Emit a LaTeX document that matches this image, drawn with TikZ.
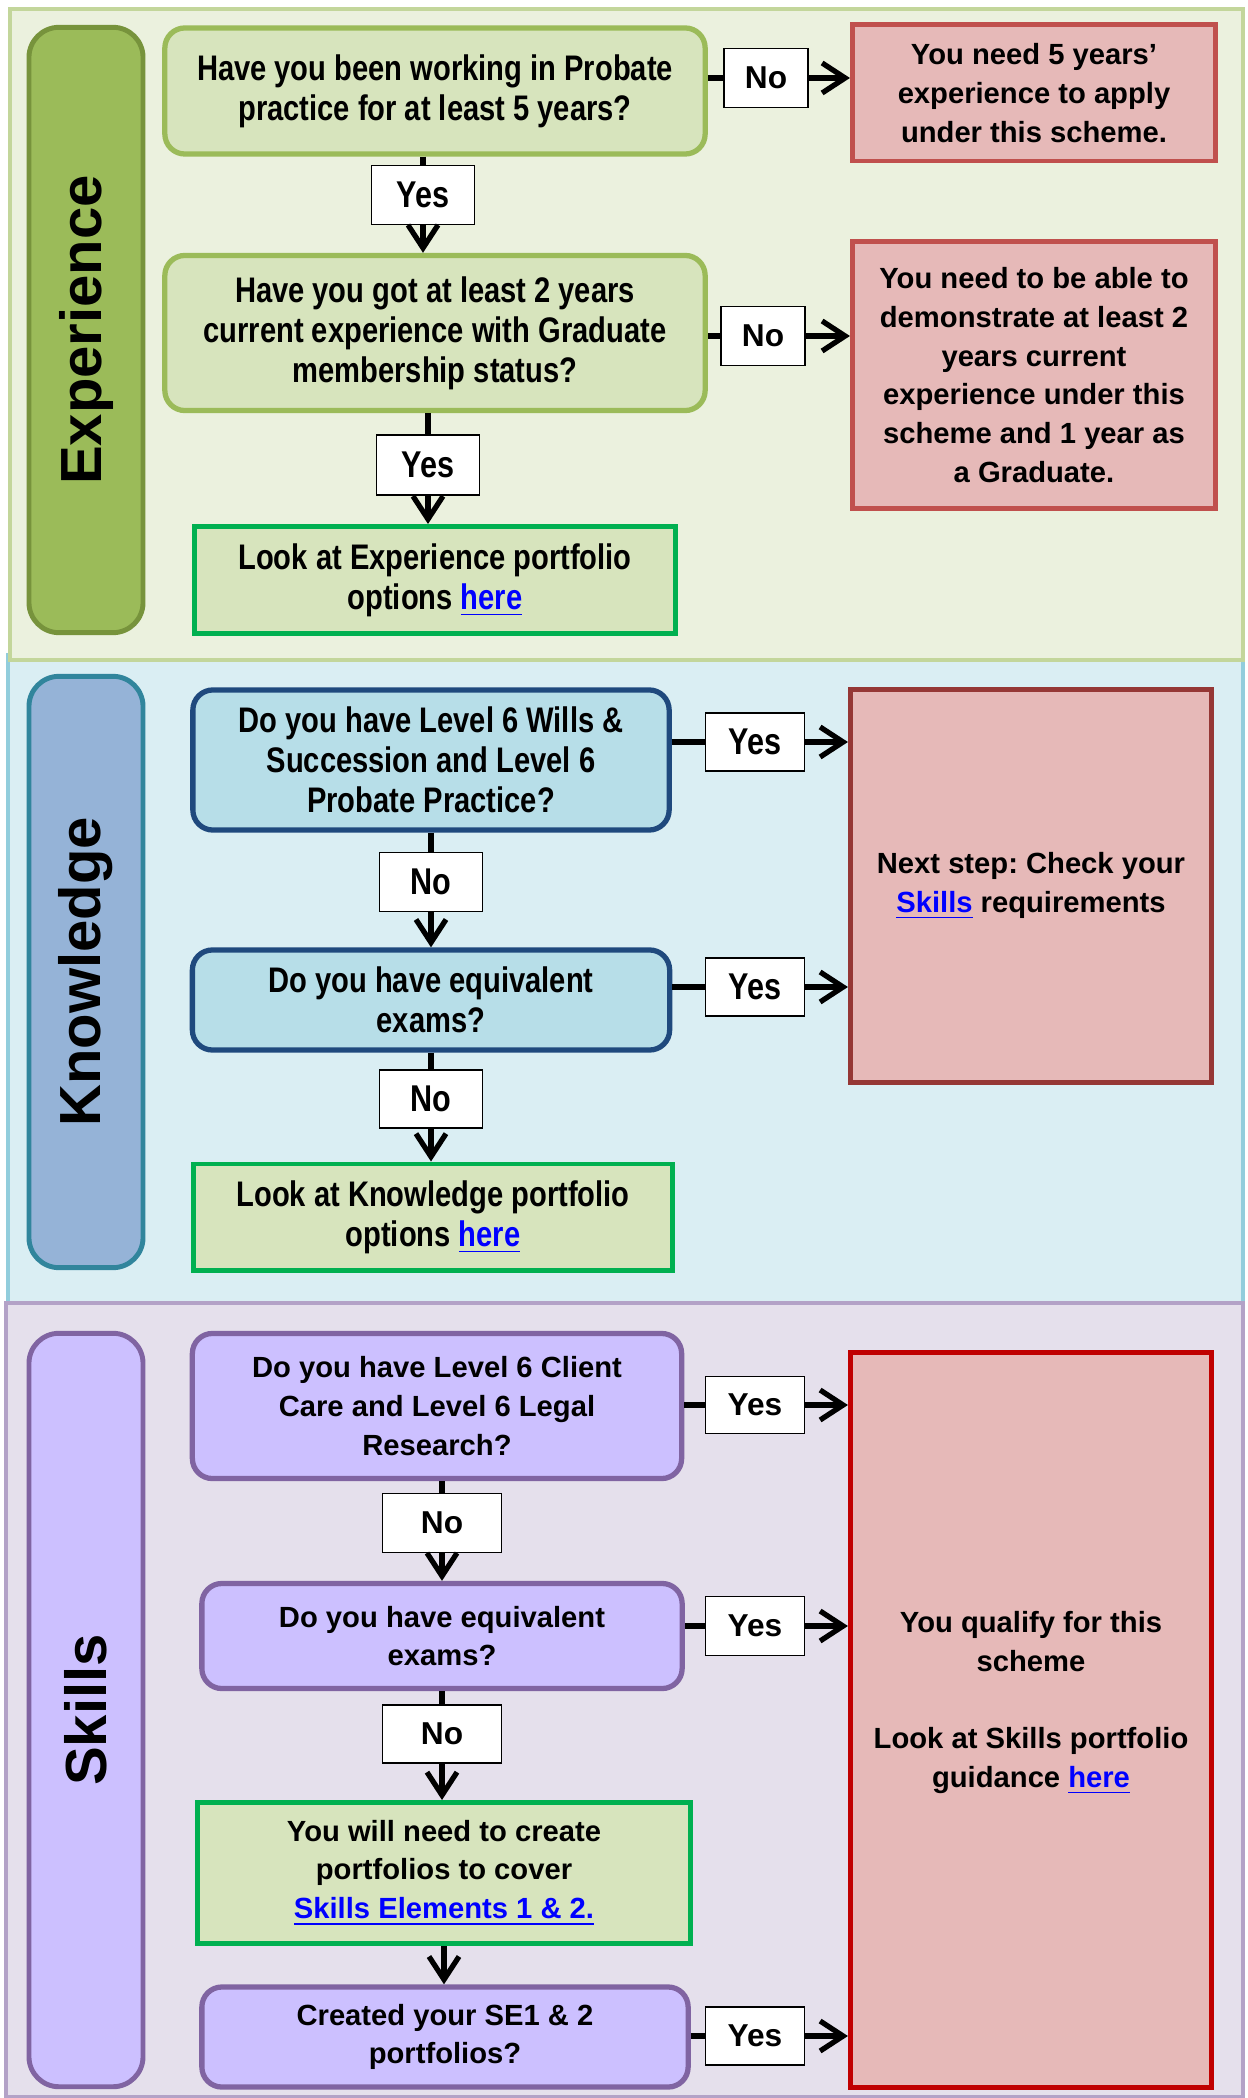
\documentclass[tikz,border=0pt]{standalone}
\usepackage{fontspec}
\setmainfont{Liberation Sans}
\newfontfamily\narrowfont[FakeStretch=0.82]{Liberation Sans}
\usetikzlibrary{arrows.meta}
\frenchspacing

\definecolor{expfill}{HTML}{EBF1DE}
\definecolor{expline}{HTML}{C3D69B}
\definecolor{explabel}{HTML}{9BBB59}
\definecolor{explabeldraw}{HTML}{77933C}
\definecolor{expq}{HTML}{D7E4BD}
\definecolor{knowfill}{HTML}{DAEEF3}
\definecolor{knowline}{HTML}{92CDDC}
\definecolor{knowlabel}{HTML}{95B3D7}
\definecolor{knowlabeldraw}{HTML}{31859C}
\definecolor{knowq}{HTML}{B7DEE8}
\definecolor{knowqdraw}{HTML}{1F497D}
\definecolor{skillfill}{HTML}{E5E0EC}
\definecolor{skillline}{HTML}{B3A2C7}
\definecolor{skilllabel}{HTML}{CCC0FF}
\definecolor{skilldraw}{HTML}{8064A2}
\definecolor{stopfill}{HTML}{E6B9B8}
\definecolor{stopdraw}{HTML}{C0504D}
\definecolor{nextdraw}{HTML}{953735}
\definecolor{qualifydraw}{HTML}{C00000}
\definecolor{greendraw}{HTML}{00B050}
\definecolor{linkblue}{HTML}{0000FF}

\newcommand{\weblink}[1]{\textcolor{linkblue}{\underline{#1}}}

\tikzset{
  wide/.style={font=\bfseries\fontsize{8.3}{11}\selectfont},
  slim/.style={font=\narrowfont\bfseries\fontsize{10.1}{11.4}\selectfont},
  dims/.style 2 args={minimum width=#1cm, minimum height=#2cm},
  lanetitle/.style={draw, rounded corners=0.3cm, line width=1.4pt, rotate=90,
    minimum width=#1, minimum height=1.14cm, inner sep=0pt,
    font=\bfseries\fontsize{16.5}{18}\selectfont},
  question/.style={draw, rounded corners=0.2cm, line width=1.5pt, align=center, inner sep=1pt},
  expq/.style={question, fill=expq, draw=explabel, slim},
  knowq/.style={question, fill=knowq, draw=knowqdraw, slim},
  skillq/.style={question, fill=skilllabel, draw=skilldraw, wide},
  stop/.style={draw=stopdraw, fill=stopfill, line width=1.4pt, align=center, inner sep=1pt, wide},
  portfolio/.style={draw=greendraw, fill=expq, line width=1.4pt, align=center, inner sep=1pt},
  answer/.style={draw, fill=white, line width=0.5pt, inner sep=0pt},
  answide/.style={answer, font=\bfseries\fontsize{9}{10}\selectfont},
  ansslim/.style={answer, font=\narrowfont\bfseries\fontsize{10.6}{12}\selectfont},
  conn/.style={line width=1.5pt},
  connarrow/.style={line width=1.5pt, -{Straight Barb[length=2.3mm,width=3mm]}}
}

\begin{document}
\begin{tikzpicture}[x=0.01cm, y=-0.01cm]
\useasboundingbox (0,0) rectangle (1247,2098);

\draw[fill=knowfill, draw=knowline, line width=1pt] (8,655) rectangle (1243,1305);
\draw[fill=skillfill, draw=skillline, line width=1pt] (6,1303) rectangle (1243,2097);
\draw[fill=expfill, draw=expline, line width=1pt] (10,9) rectangle (1243,660);

\node[lanetitle=6.05cm, fill=explabel, draw=explabeldraw] (experience) at (86,330) {Experience};
\node[expq, dims={5.40}{1.26}] (q1) at (435,91) {Have you been working in Probate\\practice for at least 5 years?};
\node[answide, dims={0.84}{0.59}] (no1) at (766,78) {No};
\node[stop, dims={3.63}{1.36}] (r1) at (1034,93) {You need 5 years’\\experience to apply\\under this scheme.};
\node[ansslim, dims={1.03}{0.59}] (yes1) at (423,195) {Yes};
\node[expq, dims={5.40}{1.55}] (q2) at (435,333) {Have you got at least 2 years\\current experience with Graduate\\membership status?};
\node[answide, dims={0.84}{0.59}] (no2) at (763,336) {No};
\node[stop, dims={3.63}{2.66}] (r2) at (1034,375) {You need to be able to\\demonstrate at least 2\\years current\\experience under this\\scheme and 1 year as\\a Graduate.};
\node[ansslim, dims={1.03}{0.60}] (yes2) at (428,465) {Yes};
\node[portfolio, slim, dims={4.81}{1.07}] (lookexp) at (435,580) {Look at Experience portfolio\\options \weblink{here}};

\draw[conn] (q1.east |- no1) -- (no1.west);
\draw[connarrow] (no1.east) -- (r1.west |- no1);
\draw[conn] (q1.south -| yes1) -- (yes1.north);
\draw[connarrow] (yes1.south) -- (yes1.south |- q2.north);
\draw[conn] (q2.east |- no2) -- (no2.west);
\draw[connarrow] (no2.east) -- (r2.west |- no2);
\draw[conn] (q2.south -| yes2) -- (yes2.north);
\draw[connarrow] (yes2.south) -- (yes2.south |- lookexp.north);

\node[lanetitle=5.91cm, fill=knowlabel, draw=knowlabeldraw] (knowledge) at (86,972) {Knowledge};
\node[knowq, dims={4.76}{1.40}] (kq1) at (431,760) {Do you have Level 6 Wills \&\\Succession and Level 6\\Probate Practice?};
\node[ansslim, dims={0.99}{0.58}] (yk1) at (755,742) {Yes};
\node[stop, draw=nextdraw, dims={3.61}{3.92}] (next) at (1031,886) {Next step: Check your\\\weblink{Skills} requirements};
\node[ansslim, dims={1.03}{0.59}] (nk1) at (431,882) {No};
\node[knowq, dims={4.77}{1.00}] (kq2) at (431,1000) {Do you have equivalent\\exams?};
\node[ansslim, dims={0.99}{0.58}] (yk2) at (755,987) {Yes};
\node[ansslim, dims={1.03}{0.58}] (nk2) at (431,1099) {No};
\node[portfolio, slim, dims={4.79}{1.06}] (lookknow) at (433,1217) {Look at Knowledge portfolio\\options \weblink{here}};

\draw[conn] (kq1.east |- yk1) -- (yk1.west);
\draw[connarrow] (yk1.east) -- (next.west |- yk1);
\draw[conn] (kq1.south -| nk1) -- (nk1.north);
\draw[connarrow] (nk1.south) -- (nk1.south |- kq2.north);
\draw[conn] (kq2.east |- yk2) -- (yk2.west);
\draw[connarrow] (yk2.east) -- (next.west |- yk2);
\draw[conn] (kq2.south -| nk2) -- (nk2.north);
\draw[connarrow] (nk2.south) -- (nk2.south |- lookknow.north);

\node[lanetitle=7.53cm, fill=skilllabel, draw=skilldraw] (skills) at (86,1710) {Skills};
\node[skillq, dims={4.89}{1.45}] (sq1) at (437,1406) {Do you have Level 6 Client\\Care and Level 6 Legal\\Research?};
\node[answide, dims={0.99}{0.57}] (ys1) at (755,1405) {Yes};
\node[stop, draw=qualifydraw, dims={3.61}{7.34},
  label={[wide, align=center, yshift=0.17cm]center:You qualify for this\\scheme\\[11pt]Look at Skills portfolio\\guidance \weblink{here}}] (qualify) at (1031,1720) {};
\node[answide, dims={1.19}{0.59}] (ns1) at (442,1523) {No};
\node[skillq, dims={4.80}{1.05}] (sq2) at (442,1636) {Do you have equivalent\\exams?};
\node[answide, dims={0.99}{0.59}] (ys2) at (755,1626) {Yes};
\node[answide, dims={1.19}{0.58}] (ns2) at (442,1734) {No};
\node[portfolio, wide, dims={4.92}{1.41}] (create) at (444,1873) {You will need to create\\portfolios to cover\\\weblink{Skills Elements 1 \& 2.}};
\node[skillq, dims={4.86}{1.00}] (sq3) at (445,2037) {Created your SE1 \& 2\\portfolios?};
\node[answide, dims={0.99}{0.58}] (ys3) at (755,2036) {Yes};

\draw[conn] (sq1.east |- ys1) -- (ys1.west);
\draw[connarrow] (ys1.east) -- (qualify.west |- ys1);
\draw[conn] (sq1.south -| ns1) -- (ns1.north);
\draw[connarrow] (ns1.south) -- (ns1.south |- sq2.north);
\draw[conn] (sq2.east |- ys2) -- (ys2.west);
\draw[connarrow] (ys2.east) -- (qualify.west |- ys2);
\draw[conn] (sq2.south -| ns2) -- (ns2.north);
\draw[connarrow] (ns2.south) -- (ns2.south |- create.north);
\draw[connarrow] (create.south) -- (create.south |- sq3.north);
\draw[conn] (sq3.east |- ys3) -- (ys3.west);
\draw[connarrow] (ys3.east) -- (qualify.west |- ys3);
\end{tikzpicture}
\end{document}
